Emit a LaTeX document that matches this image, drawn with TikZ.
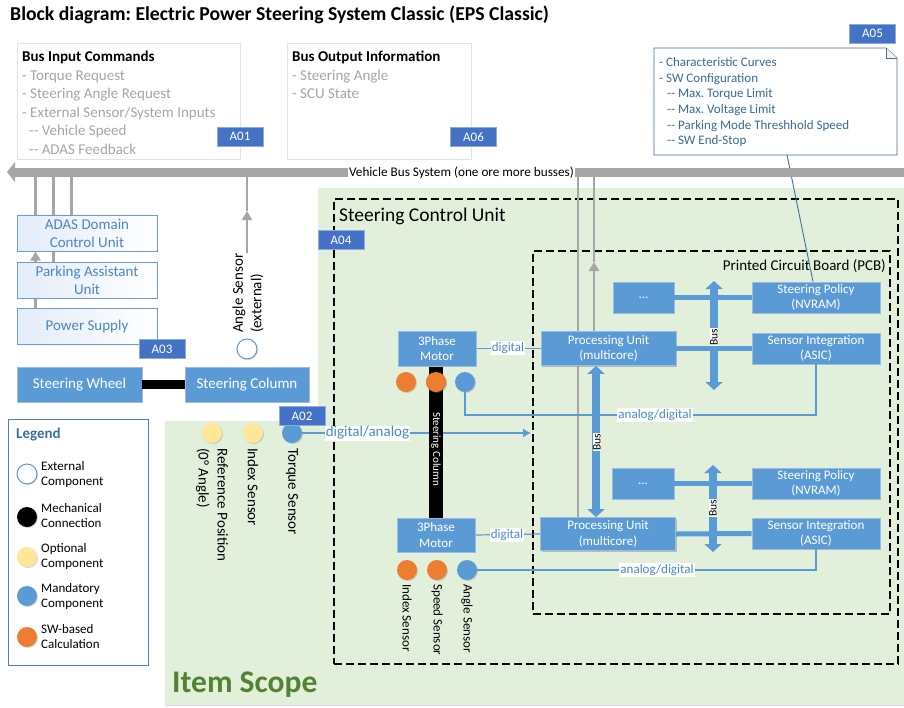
\documentclass[tikz,border=0pt]{standalone}
\usepackage{fontspec}
\setmainfont{Carlito}
\usetikzlibrary{arrows.meta,shadows}

\newcommand{\fsz}[2]{\fontsize{#1}{#2}\selectfont}

\definecolor{boxblue}{HTML}{5B9BD5}
\definecolor{boxedge}{HTML}{9DBBE0}
\definecolor{tagblue}{HTML}{4472C4}
\definecolor{tagedge}{HTML}{8FAADC}
\definecolor{busgray}{HTML}{A6A6A6}
\definecolor{greenbg}{HTML}{E2EFDA}
\definecolor{scopegreen}{HTML}{548235}
\definecolor{orangec}{HTML}{ED7D31}
\definecolor{yellowc}{HTML}{FFE699}
\definecolor{lbtext}{HTML}{4A86C8}
\definecolor{lbedge}{HTML}{6A9CD6}
\definecolor{lbfill}{HTML}{E3ECF8}
\definecolor{topedge}{HTML}{DCE4F0}
\definecolor{listgray}{HTML}{A5A5A5}
\definecolor{notetext}{HTML}{3A6A9A}
\definecolor{noteedge}{HTML}{41719C}
\definecolor{labtext}{HTML}{4A89C8}
\definecolor{legedge}{HTML}{4F7FC0}
\definecolor{legtext}{HTML}{3A6EA8}

\tikzset{
  blk/.style={rectangle, fill=boxblue, draw=boxedge, line width=0.8pt, text=white,
    align=center, inner sep=0pt, font=\fsz{13}{15.5},
    drop shadow={shadow xshift=1.2pt, shadow yshift=-1.2pt, opacity=0.25}},
  tag/.style={rectangle, fill=tagblue, draw=tagedge, line width=0.8pt, text=white,
    inner sep=0pt, minimum width=46pt, minimum height=19pt, font=\fsz{13}{15}},
  lbox/.style={rectangle, draw=lbedge, line width=1pt, left color=lbfill, right color=white,
    text=lbtext, align=center, inner sep=0pt, font=\fsz{15}{18},
    minimum width=140pt, minimum height=36pt},
  gline/.style={draw=busgray, line width=2.6pt},
  garrow/.style={gline, -{Triangle[width=10pt,length=9pt]}},
  tline/.style={draw=boxblue, line width=1.2pt},
  wlab/.style={fill=white, inner sep=1pt, text=labtext, font=\fsz{13}{15}},
  buslab/.style={fill=white, inner sep=0.6pt, text=black, font=\fsz{11.5}{13}, rotate=90},
  busarr/.style={draw=boxblue, line width=8pt,
    {Triangle[width=17pt,length=8pt]}-{Triangle[width=17pt,length=8pt]}},
  hcon/.style={draw=boxblue, line width=5pt},
  dotc/.style={circle, minimum size=20pt, inner sep=0pt,
    drop shadow={shadow xshift=1pt, shadow yshift=-1pt, opacity=0.3}},
  sidelab/.style={rotate=-90, anchor=west, inner sep=0pt, align=left},
  listtxt/.style={anchor=base west, inner sep=0pt, text=listgray, font=\fsz{15}{18}},
  notetxt/.style={anchor=base west, inner sep=0pt, text=notetext, font=\fsz{13}{15}},
  legtxt/.style={anchor=west, inner sep=0pt, align=left, font=\fsz{13}{15}},
  frame/.style={draw=black, line width=1.1pt, dash pattern=on 8pt off 4pt, inner sep=0pt},
}

\begin{document}
\frenchspacing
\begin{tikzpicture}[x=1pt,y=-1pt]
\useasboundingbox (0,0) rectangle (904,707);

% ---------- item scope area ----------
\fill[greenbg] (318,188) -- (904,188) -- (904,705) -- (165,705) -- (165,421) -- (318,421) -- cycle;
\draw[black!15, line width=1.2pt] (165,705.5) -- (904,705.5);

% ---------- title ----------
\node[anchor=base west, inner sep=0pt, font=\fsz{19.7}{23}\bfseries] (title) at (10,20)
  {Block diagram: Electric Power Steering System Classic (EPS Classic)};

% ---------- bus information boxes ----------
\node[draw=topedge, line width=0.8pt, minimum width=223pt, minimum height=116pt, inner sep=0pt] (bin) at (128.5,101) {};
\node[anchor=base west, inner sep=0pt, font=\fsz{15}{18}\bfseries] (binh) at (22,61.5) {Bus Input Commands};
\node[listtxt] (bin1) at (22,80) {- Torque Request};
\node[listtxt] (bin2) at (22,98.5) {- Steering Angle Request};
\node[listtxt] (bin3) at (22,117) {- External Sensor/System Inputs};
\node[listtxt] (bin4) at (29,135.5) {-{}- Vehicle Speed};
\node[listtxt] (bin5) at (29,154) {-{}- ADAS Feedback};
\node[tag] (a01) at (240,136.5) {A01};

\node[draw=topedge, line width=0.8pt, minimum width=184pt, minimum height=116pt, inner sep=0pt] (bout) at (379,101) {};
\node[anchor=base west, inner sep=0pt, font=\fsz{15}{18}\bfseries] (bouth) at (292,61) {Bus Output Information};
\node[listtxt] (bout1) at (292,80) {- Steering Angle};
\node[listtxt] (bout2) at (292,98.5) {- SCU State};
\node[tag] (a06) at (473.5,137) {A06};

% ---------- configuration note ----------
\node[minimum width=243pt, minimum height=107pt, inner sep=0pt] (note) at (775.5,101.5) {};
\draw[noteedge, line width=0.9pt, fill=white] (654,48) -- (886,48) -- (897,58) -- (897,155) -- (654,155) -- cycle;
\draw[noteedge, line width=0.7pt, fill=black!6] (886,48) -- (886,58) -- (897,58);
\node[notetxt] (n1) at (659,66) {- Characteristic Curves};
\node[notetxt] (n2) at (659,82) {- SW Configuration};
\node[notetxt] (n3) at (667,97.7) {-{}- Max. Torque Limit};
\node[notetxt] (n4) at (667,113.3) {-{}- Max. Voltage Limit};
\node[notetxt] (n5) at (667,129) {-{}- Parking Mode Threshhold Speed};
\node[notetxt] (n6) at (667,144.5) {-{}- SW End-Stop};
\node[tag] (a05) at (872.5,33.5) {A05};

% ---------- dashed frames ----------
\node[frame, minimum width=564pt, minimum height=465pt] (scu) at (616,431.5) {};
\node[anchor=base west, inner sep=0pt, font=\fsz{19.5}{22}] (scut) at (339,221) {Steering Control Unit};
\node[frame, minimum width=357pt, minimum height=363pt] (pcb) at (711.5,432.5) {};
\node[anchor=base east, inner sep=0pt, font=\fsz{15}{18}] (pcbt) at (886,270) {Printed Circuit Board (PCB)};

% ---------- blocks (positions) ----------
\node[blk, minimum width=78pt, minimum height=35pt] (mot1) at (437,348.5) {3Phase\\Motor};
\node[blk, minimum width=78pt, minimum height=34pt] (mot2) at (436,535) {3Phase\\Motor};

% ---------- grey connectors to the vehicle bus ----------
\coordinate (bus) at (450,172);
\coordinate (busR) at (904,172);
\coordinate (busL) at (7,172);

\node[lbox] (adas) at (87,233) {ADAS Domain\\Control Unit};
\node[lbox] (park) at (87,280) {Parking Assistant\\Unit};
\node[lbox] (ps) at (87,326) {Power Supply};

\coordinate (lx1) at ([xshift=19pt]ps.north west);
\coordinate (lx2) at ([xshift=37pt]park.north west);
\coordinate (lx3) at ([xshift=55pt]adas.north west);
\draw[garrow] (lx1) -- (lx1 |- adas.south);
\draw[gline] (lx1 |- adas.north) -- (lx1 |- bus);
\draw[gline] (lx2) -- (lx2 |- bus);
\draw[gline] (lx3) -- (lx3 |- bus);

\node[lbox] (adas) at (87,233) {ADAS Domain\\Control Unit};
\node[lbox] (park) at (87,280) {Parking Assistant\\Unit};
\node[lbox] (ps) at (87,326) {Power Supply};

% external angle sensor
\node[dotc, fill=white, draw=boxblue, line width=1pt] (asc) at (247,349) {};
\node[rotate=90, anchor=west, inner sep=0pt, align=left, font=\fsz{15}{18.5}] (asl) at (248,333) {Angle Sensor\\(external)};
\coordinate (ax) at (247,211);
\draw[garrow] (asl.east -| ax) -- (ax);
\draw[gline] (ax) -- (ax |- bus);

% configuration note link
\coordinate (nl) at (787,155);

% ---------- PCB blocks ----------
\node[blk, minimum width=135pt, minimum height=34pt] (pu1) at (608.5,348.5) {Processing Unit\\(multicore)};
\node[blk, minimum width=61pt, minimum height=31pt] (dots1) at (643.5,297.5) {...};
\node[blk, minimum width=128pt, minimum height=31pt] (pol1) at (816,297.5) {Steering Policy\\(NVRAM)};
\node[blk, minimum width=128pt, minimum height=31pt] (asic1) at (816,348.5) {Sensor Integration\\(ASIC)};

\node[blk, minimum width=135pt, minimum height=33pt] (pu2) at (608,534) {Processing Unit\\(multicore)};
\node[blk, minimum width=62pt, minimum height=31pt] (dots2) at (643,483.5) {...};
\node[blk, minimum width=128pt, minimum height=31pt] (pol2) at (816,483.5) {Steering Policy\\(NVRAM)};
\node[blk, minimum width=128pt, minimum height=31pt] (asic2) at (816,533.5) {Sensor Integration\\(ASIC)};

% grey lines from the processing units to the bus (behind the blocks)
\coordinate (gx1) at (578,300);
\coordinate (gx2) at (594,262);
\draw[gline] (pu2.north -| gx1) -- (gx1 |- bus);
\draw[garrow] (pu1.north -| gx2) -- (gx2);
\draw[gline] (gx2) -- (gx2 |- bus);
\draw[noteedge, line width=0.9pt] (nl) -- ([xshift=-3pt]pol1.north);

% vehicle bus bar
\draw[draw=busgray, line width=9pt, -{Triangle[width=20pt,length=8pt]}] (busR) -- (busL);
\node[fill=white, inner sep=1pt, font=\fsz{13.2}{15}] (busl) at (461.5,172.5) {Vehicle Bus System (one ore more busses)};

% redraw blocks on top of the grey lines
\node[blk, minimum width=135pt, minimum height=34pt] (pu1) at (608.5,348.5) {Processing Unit\\(multicore)};
\node[blk, minimum width=135pt, minimum height=33pt] (pu2) at (608,534) {Processing Unit\\(multicore)};

% ---------- analog / digital signal lines ----------
\node[dotc, fill=orangec] (c1a) at (406,382) {};
\node[dotc, fill=orangec] (c1b) at (436,382) {};
\node[dotc, fill=boxblue] (c1c) at (465,382) {};
\node[dotc, fill=orangec] (c2a) at (407,570) {};
\node[dotc, fill=orangec] (c2b) at (437,570) {};
\node[dotc, fill=boxblue] (c2c) at (467,570) {};

\coordinate (ad1) at (816,415);
\coordinate (ad2) at (816,570);
\draw[tline] (c1c.south) |- (ad1) -- (asic1.south);
\draw[tline] (c2c.east) -- (ad2) -- (asic2.south);
\node[wlab] (ad1l) at (655,415) {analog/digital};
\node[wlab] (ad2l) at (657,570) {analog/digital};

\draw[tline] (mot1.east) -- (pu1.west);
\draw[tline] (mot2.east) -- (pu2.west);
\node[wlab] (dg1) at (508,348) {digital};
\node[wlab] (dg2) at (507,535) {digital};

% torque sensor line
\node[dotc, fill=yellowc] (refc) at (212,433) {};
\node[dotc, fill=yellowc] (idxc) at (253,433) {};
\node[dotc, fill=boxblue] (tsc) at (292,433) {};
\coordinate (tsend) at (531,433);
\draw[tline, -{Latex[width=9pt,length=8pt]}] (tsc.east) -- (tsend);
\node[wlab, font=\fsz{15}{17}] (dal) at (367.5,433) {digital/analog};

% ---------- internal buses ----------
\draw[hcon] (dots1.east) -- (pol1.west);
\draw[hcon] (pu1.east) -- (asic1.west);
\draw[hcon] (dots2.east) -- (pol2.west);
\draw[hcon] (pu2.east) -- (asic2.west);

\coordinate (b1t) at (714,281);
\coordinate (b1b) at (714,390);
\draw[busarr] (b1t) -- (b1b);
\node[buslab] (b1l) at (714,337) {Bus};

\coordinate (b2t) at (713,465);
\coordinate (b2b) at (713,552);
\draw[busarr] (b2t) -- (b2b);
\node[buslab] (b2l) at (713,508) {Bus};

\coordinate (cb) at (596,440);
\draw[busarr] (pu1.south -| cb) -- (pu2.north -| cb);
\node[buslab] (cbl) at (597,442) {Bus};

% ---------- steering column (mechanical) ----------
\node[fill=black, minimum width=14pt, minimum height=152pt, inner sep=0pt] (scol) at (436,442) {};
\node[rotate=-90, inner sep=0pt, text=white, font=\fsz{11}{13}] (scolt) at (436,449) {Steering Column};
\node[blk, minimum width=78pt, minimum height=35pt] (mot1) at (437,348.5) {3Phase\\Motor};
\node[blk, minimum width=78pt, minimum height=34pt] (mot2) at (436,535) {3Phase\\Motor};
\node[dotc, fill=orangec] (c1b) at (436,382) {};

% motor sensor labels
\node[sidelab, font=\fsz{13}{15}] (l2a) at (407,584) {Index Sensor};
\node[sidelab, font=\fsz{13}{15}] (l2b) at (437,584) {Speed Sensor};
\node[sidelab, font=\fsz{13}{15}] (l2c) at (467,584) {Angle Sensor};

% steering column sensor labels
\node[sidelab, font=\fsz{15}{19}] (lref) at (212,448) {Reference Position\\(0° Angle)};
\node[sidelab, font=\fsz{15}{18}] (lidx) at (253,448) {Index Sensor};
\node[sidelab, font=\fsz{15}{18}] (lts) at (292,448) {Torque Sensor};

% ---------- steering wheel and column ----------
\node[blk, font=\fsz{15}{18}, minimum width=125pt, minimum height=35pt] (sw) at (79.5,384.5) {Steering Wheel};
\node[blk, font=\fsz{15}{18}, minimum width=124pt, minimum height=35pt] (scl) at (247,384.5) {Steering Column};
\draw[line width=9pt] (sw.east) -- (scl.west);

% ---------- tags ----------
\node[tag] (a03) at (162,349) {A03};
\node[tag] (a04) at (341,240) {A04};
\node[tag] (a02) at (302,416) {A02};

% ---------- legend ----------
\node[draw=legedge, line width=1pt, minimum width=140pt, minimum height=246pt, inner sep=0pt] (leg) at (78,542) {};
\node[anchor=base west, inner sep=0pt, text=legtext, font=\fsz{15}{18}\bfseries] (legt) at (16,438.5) {Legend};
\node[dotc, fill=white, draw=boxblue, line width=1pt] (lg1) at (27,474) {};
\node[dotc, fill=black] (lg2) at (27,517) {};
\node[dotc, fill=yellowc] (lg3) at (27,557) {};
\node[dotc, fill=boxblue] (lg4) at (27,596) {};
\node[dotc, fill=orangec] (lg5) at (27,637) {};
\node[legtxt] (lt1) at (41,475) {External\\Component};
\node[legtxt] (lt2) at (41,516) {Mechanical\\Connection};
\node[legtxt] (lt3) at (41,557) {Optional\\Component};
\node[legtxt] (lt4) at (41,597) {Mandatory\\Component};
\node[legtxt] (lt5) at (41,637) {SW-based\\Calculation};

% ---------- item scope ----------
\node[anchor=base west, inner sep=0pt, text=scopegreen, font=\fsz{31.5}{36}\bfseries] (scope) at (172,692) {Item Scope};
\end{tikzpicture}
\end{document}
